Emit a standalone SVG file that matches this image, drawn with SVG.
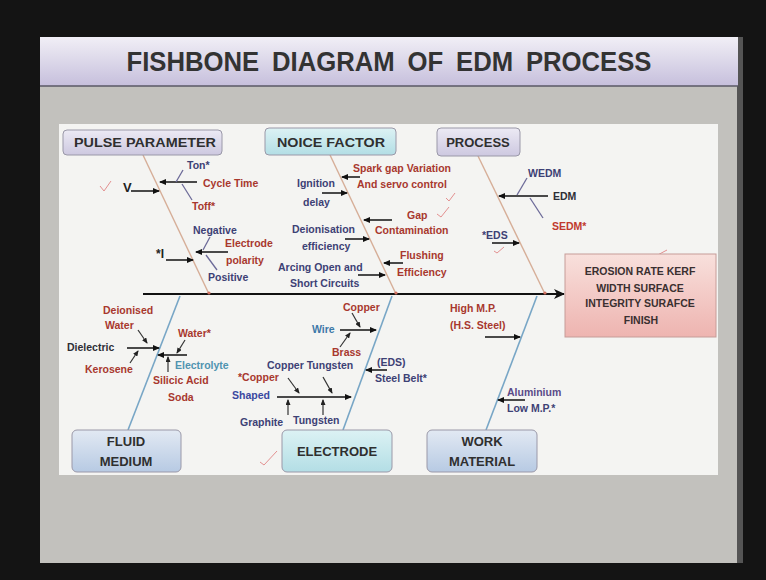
<svg xmlns="http://www.w3.org/2000/svg" width="766" height="580" viewBox="0 0 766 580">
<defs>
<linearGradient id="gBand" x1="0" y1="0" x2="0" y2="1"><stop offset="0" stop-color="#f1eff6"/><stop offset="1" stop-color="#c6bfdc"/></linearGradient>
<linearGradient id="gLav" x1="0" y1="0" x2="0" y2="1"><stop offset="0" stop-color="#eceaf4"/><stop offset="1" stop-color="#cdc8e0"/></linearGradient>
<linearGradient id="gCyan" x1="0" y1="0" x2="0" y2="1"><stop offset="0" stop-color="#dcf2f4"/><stop offset="1" stop-color="#b3dee5"/></linearGradient>
<linearGradient id="gBlue" x1="0" y1="0" x2="0" y2="1"><stop offset="0" stop-color="#e2e9f3"/><stop offset="1" stop-color="#b7cae3"/></linearGradient>
<linearGradient id="gPink" x1="0" y1="0" x2="0" y2="1"><stop offset="0" stop-color="#f8e0dc"/><stop offset="1" stop-color="#eeb4b0"/></linearGradient>
<marker id="ah" markerWidth="7" markerHeight="6" refX="6" refY="3" orient="auto" markerUnits="userSpaceOnUse"><path d="M0,0 L7,3 L0,6 z" fill="#111"/></marker>
<marker id="ahs" markerWidth="6" markerHeight="5" refX="5" refY="2.5" orient="auto" markerUnits="userSpaceOnUse"><path d="M0,0 L6,2.5 L0,5 z" fill="#222"/></marker>
<marker id="ahb" markerWidth="11" markerHeight="10" refX="10" refY="5" orient="auto" markerUnits="userSpaceOnUse"><path d="M0,0 L11,5 L0,10 L3,5 z" fill="#111"/></marker>
<style>
text{font-family:"Liberation Sans",Arial,sans-serif;font-weight:bold;}
.l{font-size:10.5px;}
.nv{fill:#3d4175;}
.rd{fill:#a8382e;}
.bl{fill:#3d78a8;}
.tl{fill:#4f93b0;}
.dk{fill:#2e2e36;}
.bx{font-size:13px;fill:#2f2f2f;text-anchor:middle;}
.ef{font-size:10.5px;fill:#3a3030;text-anchor:middle;}
.box{stroke:#9a98a8;stroke-width:1;}
.arr{stroke:#111;stroke-width:1.5;fill:none;marker-end:url(#ah);}
.sl{stroke:#6c6a98;stroke-width:1.3;fill:none;}
.sla{stroke:#333;stroke-width:1.2;fill:none;marker-end:url(#ahs);}
.bt{stroke:#d6ae98;stroke-width:1.4;fill:none;}
.bb{stroke:#78a6c6;stroke-width:1.6;fill:none;}
.ck{stroke:#e39090;stroke-width:1;fill:none;}
</style>
</defs>
<rect x="0" y="0" width="766" height="580" fill="#141414"/>
<rect x="40" y="37" width="698" height="526" fill="#c2c1bd"/>
<rect x="737" y="37" width="6" height="526" fill="#555"/>
<rect x="40" y="37" width="698" height="49" fill="url(#gBand)"/>
<line x1="40" y1="86" x2="738" y2="86" stroke="#5a5866" stroke-width="1.5"/>
<text x="389" y="71" font-size="27" fill="#333" text-anchor="middle" textLength="525" lengthAdjust="spacingAndGlyphs" word-spacing="6">FISHBONE DIAGRAM OF EDM PROCESS</text>
<rect x="59" y="124" width="659" height="351" fill="#f4f4f2"/>

<g id="connectors">
<line class="bt" x1="143" y1="155" x2="209" y2="294"/>
<line class="bt" x1="330" y1="155" x2="396" y2="294"/>
<line class="bt" x1="478" y1="156" x2="545" y2="294"/>
<line class="bb" x1="180" y1="296" x2="128" y2="430"/>
<line class="bb" x1="392" y1="296" x2="343" y2="430"/>
<line class="bb" x1="537" y1="296" x2="486" y2="430"/>
<line x1="143" y1="294" x2="564" y2="294" stroke="#111" stroke-width="2" marker-end="url(#ahb)"/>
<circle cx="209" cy="293" r="1.6" fill="#d07060"/><circle cx="396" cy="293" r="1.6" fill="#d07060"/><circle cx="545" cy="293" r="1.6" fill="#d07060"/>
<line class="arr" x1="197" y1="182" x2="160" y2="182"/>
<line class="arr" x1="131" y1="191" x2="159" y2="191"/>
<line class="sl" x1="183" y1="170" x2="176" y2="182"/>
<line class="sl" x1="192" y1="200" x2="182" y2="184"/>
<line class="arr" x1="228" y1="252" x2="196" y2="252"/>
<line class="sl" x1="210" y1="237" x2="203" y2="250"/>
<line class="sl" x1="217" y1="270" x2="206" y2="255"/>
<line class="arr" x1="166" y1="260" x2="193" y2="260"/>
<line class="arr" x1="360" y1="177" x2="342" y2="177"/>
<line class="arr" x1="322" y1="193" x2="347" y2="193"/>
<line class="arr" x1="392" y1="220" x2="364" y2="220"/>
<line class="arr" x1="345" y1="239" x2="369" y2="239"/>
<line class="arr" x1="403" y1="263" x2="384" y2="263"/>
<line class="arr" x1="358" y1="275" x2="385" y2="275"/>
<line class="arr" x1="548" y1="196" x2="499" y2="196"/>
<line class="sl" x1="527" y1="178" x2="517" y2="195"/>
<line class="sl" x1="543" y1="218" x2="530" y2="198"/>
<line class="arr" x1="492" y1="243" x2="519" y2="243"/>
<line class="arr" x1="127" y1="348" x2="159" y2="348"/>
<line class="sla" x1="138" y1="330" x2="147" y2="343"/>
<line class="sla" x1="130" y1="363" x2="138" y2="351"/>
<line class="arr" x1="187" y1="355" x2="158" y2="355"/>
<line class="sla" x1="185" y1="340" x2="177" y2="353"/>
<line class="sla" x1="168" y1="372" x2="168" y2="357"/>
<line class="arr" x1="340" y1="330" x2="376" y2="330"/>
<line class="sla" x1="352" y1="313" x2="360" y2="327"/>
<line class="sla" x1="340" y1="347" x2="350" y2="333"/>
<line class="arr" x1="387" y1="370" x2="366" y2="370"/>
<line class="arr" x1="277" y1="397" x2="351" y2="397"/>
<line class="sla" x1="288" y1="378" x2="299" y2="393"/>
<line class="sla" x1="323" y1="377" x2="332" y2="393"/>
<line class="sla" x1="288" y1="415" x2="288" y2="400"/>
<line class="sla" x1="323" y1="415" x2="323" y2="400"/>
<line class="arr" x1="485" y1="337" x2="520" y2="337"/>
<line class="arr" x1="525" y1="400" x2="498" y2="400"/>
</g>

<g id="marks">
<polyline class="ck" points="100,186 104,191 111,181"/>
<polyline class="ck" points="446,198 449,201 455,193"/>
<polyline class="ck" points="437,214 441,217 449,207"/>
<polyline class="ck" points="494,251 497,253 504,247"/>
<line class="ck" x1="652" y1="258" x2="667" y2="250"/>
<polyline class="ck" points="260,462 264,465 277,451"/>
</g>

<g id="pulse-parameter"><rect class="box" x="63" y="130" width="159" height="25" rx="4" fill="url(#gLav)"/><text class="bx" x="145" y="147" textLength="142" lengthAdjust="spacingAndGlyphs">PULSE PARAMETER</text></g>
<g id="noice-factor"><rect class="box" x="265" y="128" width="131" height="27" rx="4" fill="url(#gCyan)"/><text class="bx" x="331" y="147" textLength="108" lengthAdjust="spacingAndGlyphs">NOICE FACTOR</text></g>
<g id="process"><rect class="box" x="437" y="128" width="83" height="28" rx="4" fill="url(#gLav)"/><text class="bx" x="478" y="147">PROCESS</text></g>
<g id="effect"><rect x="565" y="254" width="151" height="83" fill="url(#gPink)" stroke="#c69c98" stroke-width="1"/>
<text class="ef" x="640" y="275">EROSION RATE KERF</text><text class="ef" x="640" y="292">WIDTH SURFACE</text><text class="ef" x="640" y="307">INTEGRITY SURAFCE</text><text class="ef" x="641" y="324">FINISH</text></g>
<g id="fluid-medium"><rect class="box" x="72" y="430" width="109" height="42" rx="5" fill="url(#gBlue)"/><text class="bx" x="126" y="446">FLUID</text><text class="bx" x="126" y="466">MEDIUM</text></g>
<g id="electrode"><rect class="box" x="282" y="430" width="110" height="42" rx="5" fill="url(#gCyan)"/><text class="bx" x="337" y="456">ELECTRODE</text></g>
<g id="work-material"><rect class="box" x="427" y="430" width="110" height="42" rx="5" fill="url(#gBlue)"/><text class="bx" x="482" y="446">WORK</text><text class="bx" x="482" y="466">MATERIAL</text></g>

<g id="pulse-causes">
<text class="l nv" x="187" y="169">Ton*</text>
<text class="l rd" x="203" y="187">Cycle Time</text>
<text class="l rd" x="192" y="210">Toff*</text>
<text x="123" y="192" font-size="13" fill="#222">V</text>
<text class="l nv" x="193" y="234">Negative</text>
<text class="l rd" x="225" y="247">Electrode</text>
<text class="l rd" x="226" y="264">polarity</text>
<text class="l nv" x="208" y="281">Positive</text>
<text x="156" y="258" font-size="12" fill="#222">*I</text>
</g>
<g id="noise-causes">
<text class="l rd" x="353" y="172">Spark gap Variation</text>
<text class="l rd" x="357" y="188">And servo control</text>
<text class="l nv" x="297" y="187">Ignition</text>
<text class="l nv" x="303" y="206">delay</text>
<text class="l rd" x="407" y="219">Gap</text>
<text class="l rd" x="375" y="234">Contamination</text>
<text class="l nv" x="292" y="233">Deionisation</text>
<text class="l nv" x="302" y="250">efficiency</text>
<text class="l rd" x="400" y="259">Flushing</text>
<text class="l rd" x="397" y="276">Efficiency</text>
<text class="l nv" x="278" y="271">Arcing Open and</text>
<text class="l nv" x="290" y="287">Short Circuits</text>
</g>
<g id="process-causes">
<text class="l nv" x="528" y="177">WEDM</text>
<text class="l dk" x="553" y="200">EDM</text>
<text class="l" x="552" y="230" fill="#c0392e">SEDM*</text>
<text class="l nv" x="482" y="239">*EDS</text>
</g>
<g id="fluid-causes">
<text class="l rd" x="103" y="314">Deionised</text>
<text class="l rd" x="105" y="329">Water</text>
<text class="l dk" x="67" y="351">Dielectric</text>
<text class="l rd" x="85" y="373">Kerosene</text>
<text class="l rd" x="178" y="337">Water*</text>
<text class="l tl" x="175" y="369">Electrolyte</text>
<text class="l rd" x="153" y="384">Silicic Acid</text>
<text class="l rd" x="168" y="401">Soda</text>
</g>
<g id="electrode-causes">
<text class="l rd" x="343" y="311">Copper</text>
<text class="l bl" x="312" y="333">Wire</text>
<text class="l rd" x="332" y="356">Brass</text>
<text class="l nv" x="267" y="369">Copper Tungsten</text>
<text class="l nv" x="377" y="366">(EDS)</text>
<text class="l nv" x="375" y="382">Steel Belt*</text>
<text class="l rd" x="238" y="381">*Copper</text>
<text class="l" x="232" y="399" fill="#3a48a0">Shaped</text>
<text class="l nv" x="240" y="426">Graphite</text>
<text class="l nv" x="293" y="424">Tungsten</text>
</g>
<g id="work-causes">
<text class="l rd" x="450" y="312">High M.P.</text>
<text class="l rd" x="450" y="329">(H.S. Steel)</text>
<text class="l" x="507" y="396" fill="#5a4a88">Aluminium</text>
<text class="l nv" x="507" y="412">Low M.P.*</text>
</g>
</svg>
